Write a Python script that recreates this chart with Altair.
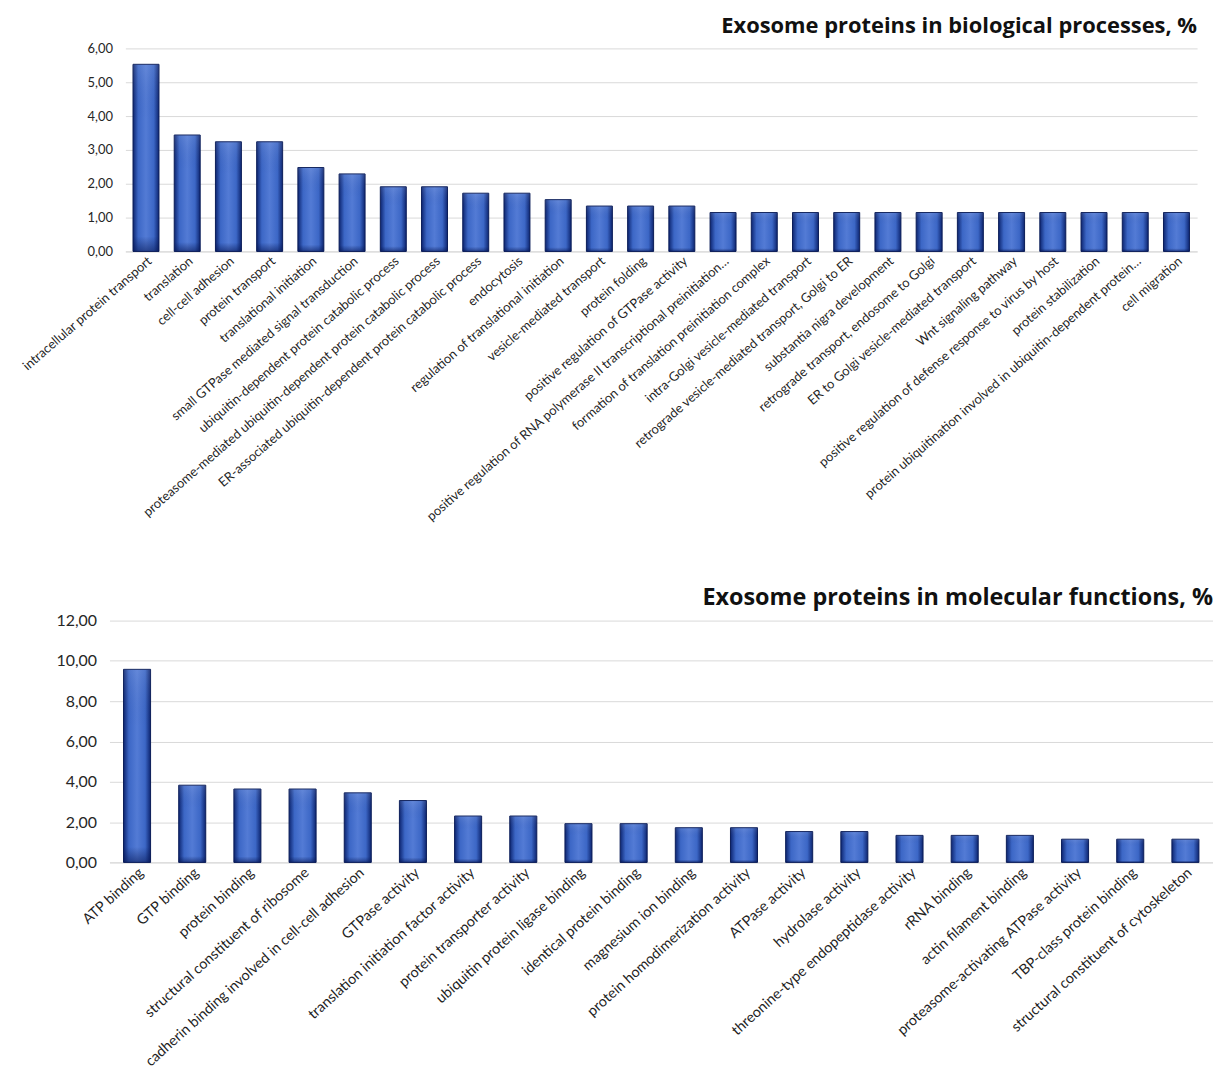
import altair as alt
import pandas as pd

FONT = "Lato"
TITLE_FONT = "Open Sans"

bp_labels = [
    "intracellular protein transport",
    "translation",
    "cell-cell adhesion",
    "protein transport",
    "translational initiation",
    "small GTPase mediated signal transduction",
    "ubiquitin-dependent protein catabolic process",
    "proteasome-mediated ubiquitin-dependent protein catabolic process",
    "ER-associated ubiquitin-dependent protein catabolic process",
    "endocytosis",
    "regulation of translational initiation",
    "vesicle-mediated transport",
    "protein folding",
    "positive regulation of GTPase activity",
    "positive regulation of RNA polymerase II transcriptional preinitiation…",
    "formation of translation preinitiation complex",
    "intra-Golgi vesicle-mediated transport",
    "retrograde vesicle-mediated transport, Golgi to ER",
    "substantia nigra development",
    "retrograde transport, endosome to Golgi",
    "ER to Golgi vesicle-mediated transport",
    "Wnt signaling pathway",
    "positive regulation of defense response to virus by host",
    "protein stabilization",
    "protein ubiquitination involved in ubiquitin-dependent protein…",
    "cell migration",
]
bp_values = [5.53, 3.44, 3.24, 3.24, 2.48, 2.29, 1.91, 1.91, 1.72, 1.72, 1.53,
             1.34, 1.34, 1.34, 1.15, 1.15, 1.15, 1.15, 1.15, 1.15, 1.15, 1.15,
             1.15, 1.15, 1.15, 1.15]

mf_labels = [
    "ATP binding",
    "GTP binding",
    "protein binding",
    "structural constituent of ribosome",
    "cadherin binding involved in cell-cell adhesion",
    "GTPase activity",
    "translation initiation factor activity",
    "protein transporter activity",
    "ubiquitin protein ligase binding",
    "identical protein binding",
    "magnesium ion binding",
    "protein homodimerization activity",
    "ATPase activity",
    "hydrolase activity",
    "threonine-type endopeptidase activity",
    "rRNA binding",
    "actin filament binding",
    "proteasome-activating ATPase activity",
    "TBP-class protein binding",
    "structural constituent of cytoskeleton",
]
mf_values = [9.58, 3.83, 3.64, 3.64, 3.45, 3.07, 2.30, 2.30, 1.92, 1.92, 1.72,
             1.72, 1.53, 1.53, 1.34, 1.34, 1.34, 1.15, 1.15, 1.15]

bp_ticks = [0, 1, 2, 3, 4, 5, 6]
mf_ticks = [0, 2, 4, 6, 8, 10, 12]

side_grad = alt.Gradient(
    gradient="linear", x1=0, x2=1, y1=0, y2=0,
    stops=[
        alt.GradientStop(color="#0d2570", offset=0),
        alt.GradientStop(color="#3c67c6", offset=0.2),
        alt.GradientStop(color="#537bd5", offset=0.5),
        alt.GradientStop(color="#3c67c6", offset=0.8),
        alt.GradientStop(color="#0d2570", offset=1),
    ],
)
bottom_grad = alt.Gradient(
    gradient="linear", x1=0, x2=0, y1=0, y2=1,
    stops=[
        alt.GradientStop(color="rgba(255,255,255,0.10)", offset=0),
        alt.GradientStop(color="rgba(5,20,80,0)", offset=0.3),
        alt.GradientStop(color="rgba(5,20,80,0)", offset=0.92),
        alt.GradientStop(color="rgba(5,20,80,0.55)", offset=1),
    ],
)

LABEL_EXPR = "replace(format(datum.value, '.2f'), '.', ',')"


def panel(labels, values, ticks, width, height, title, title_size,
          title_offset, xfs, yfs, pad_inner, angle):
    df = pd.DataFrame({"cat": labels, "val": values})
    x = alt.X(
        "cat:N", sort=labels,
        scale=alt.Scale(paddingInner=pad_inner, paddingOuter=pad_inner / 2),
        axis=alt.Axis(
            title=None, labelAngle=angle, labelFont=FONT, labelFontSize=xfs,
            labelColor="#1f1f1f", ticks=False, domain=True,
            domainColor="#d9d9d9", labelPadding=3, labelLimit=600,
        ),
    )
    y = alt.Y(
        "val:Q",
        scale=alt.Scale(domain=[ticks[0], ticks[-1]], nice=False),
        axis=alt.Axis(
            title=None, values=ticks, labelExpr=LABEL_EXPR, labelFont=FONT,
            labelFontSize=yfs, labelColor="#262626", grid=True,
            gridColor="#d9d9d9", domain=False, ticks=False, labelPadding=13,
        ),
    )
    base = alt.Chart(df).mark_bar(
        fill=side_grad, stroke="#0a1c58", strokeWidth=1
    ).encode(x=x, y=y)
    shade = alt.Chart(df).mark_bar(fill=bottom_grad).encode(x=x, y=y)
    return alt.layer(base, shade).properties(
        width=width, height=height,
        title=alt.TitleParams(
            text=title, anchor="end", font=TITLE_FONT, fontSize=title_size,
            fontWeight="bold", color="#111111", offset=title_offset,
        ),
    )


top = panel(bp_labels, bp_values, bp_ticks, 1077, 204,
            "Exosome proteins in biological processes, %", 22, 4,
            13, 13, 0.37, -41)
bottom = panel(mf_labels, mf_values, mf_ticks, 1109, 243,
               "Exosome proteins in molecular functions, %", 23.5, 3,
               14.5, 16, 0.51, -42)

chart = alt.vconcat(
    top, bottom, spacing=371, center=True, bounds="flush"
).configure_view(stroke=None).properties(
    background="white",
    padding={"left": 20, "top": 13, "right": 0, "bottom": 0},
)

chart.save("out.html", embed_options={"renderer": "svg", "actions": False})
